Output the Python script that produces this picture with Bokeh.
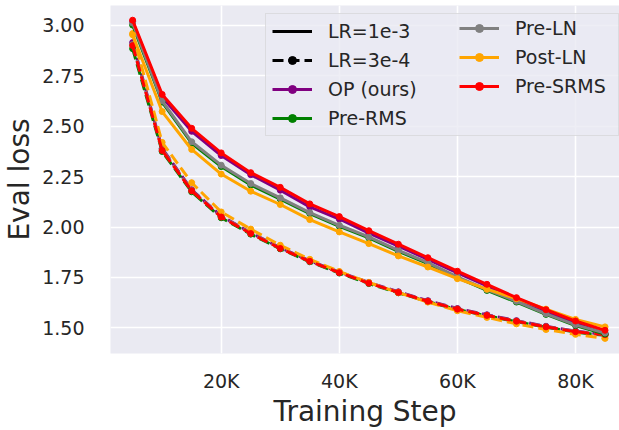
from bokeh.plotting import figure
from bokeh.models import Legend, LegendItem, FixedTicker, NumeralTickFormatter, Range1d
from bokeh.embed import file_html
from bokeh.resources import INLINE

# ---------------- data ----------------
steps = [5000, 10000, 15000, 20000, 25000, 30000, 35000, 40000, 45000,
         50000, 55000, 60000, 65000, 70000, 75000, 80000, 85000]

models = ["OP (ours)", "Pre-RMS", "Pre-LN", "Post-LN", "Pre-SRMS"]
colors = ["purple", "green", "gray", "orange", "red"]

# LR = 1e-3 (solid)
op_1e3 = [3.020, 2.645, 2.475, 2.355, 2.260, 2.183, 2.100, 2.040, 1.970, 1.905,
          1.840, 1.773, 1.708, 1.642, 1.582, 1.524, 1.472]
rms_1e3 = [3.002, 2.620, 2.416, 2.300, 2.209, 2.139, 2.067, 2.004, 1.946, 1.880,
           1.819, 1.749, 1.686, 1.628, 1.567, 1.512, 1.470]
ln_1e3 = [3.012, 2.626, 2.423, 2.307, 2.216, 2.145, 2.072, 2.009, 1.951, 1.885,
          1.824, 1.753, 1.690, 1.632, 1.570, 1.515, 1.475]
post_1e3 = [2.954, 2.573, 2.385, 2.263, 2.178, 2.112, 2.037, 1.976, 1.918, 1.857,
            1.802, 1.744, 1.692, 1.645, 1.593, 1.542, 1.505]
srms_1e3 = [3.026, 2.658, 2.490, 2.368, 2.270, 2.197, 2.115, 2.052, 1.982, 1.915,
            1.848, 1.781, 1.716, 1.650, 1.590, 1.534, 1.488]

# LR = 3e-4 (dashed)
op_3e4 = [2.915, 2.390, 2.185, 2.055, 1.972, 1.898, 1.833, 1.777, 1.725, 1.679,
          1.635, 1.596, 1.565, 1.536, 1.508, 1.484, 1.468]
rms_3e4 = [2.885, 2.375, 2.175, 2.046, 1.965, 1.892, 1.828, 1.772, 1.720, 1.674,
           1.630, 1.591, 1.560, 1.531, 1.503, 1.479, 1.463]
ln_3e4 = [2.905, 2.385, 2.182, 2.052, 1.970, 1.896, 1.831, 1.776, 1.723, 1.677,
          1.633, 1.594, 1.563, 1.534, 1.506, 1.482, 1.467]
post_3e4 = [2.960, 2.420, 2.220, 2.075, 1.990, 1.910, 1.840, 1.780, 1.725, 1.675,
            1.628, 1.585, 1.552, 1.520, 1.492, 1.468, 1.448]
srms_3e4 = [2.900, 2.380, 2.180, 2.050, 1.968, 1.894, 1.830, 1.774, 1.722, 1.676,
            1.632, 1.593, 1.562, 1.533, 1.505, 1.481, 1.466]

solid_series = [op_1e3, rms_1e3, ln_1e3, post_1e3, srms_1e3]
dashed_series = [op_3e4, rms_3e4, ln_3e4, post_3e4, srms_3e4]

x_tick_vals = [20000, 40000, 60000, 80000]
x_tick_labels = ["20K", "40K", "60K", "80K"]
y_tick_vals = [1.50, 1.75, 2.00, 2.25, 2.50, 2.75, 3.00]

# ---------------- styling ----------------
FONT = "DejaVu Sans"
TXT = "#262626"
BG = "#EAEAF2"
LW = 3
DASH = "11 5"
MS = 6

p = figure(width=619, height=430,
           x_range=Range1d(1253, 87450), y_range=Range1d(1.373, 3.099),
           output_backend="svg", toolbar_location=None,
           min_border=0, min_border_left=110, min_border_right=0,
           min_border_top=5, min_border_bottom=77)
p.background_fill_color = BG
p.border_fill_color = "white"
p.outline_line_color = None

for g in (p.xgrid, p.ygrid):
    g.grid_line_color = "white"
    g.grid_line_width = 1.6

for ax in (p.xaxis, p.yaxis):
    ax.axis_line_color = None
    ax.major_tick_line_color = None
    ax.minor_tick_line_color = None
    ax.major_label_text_font = FONT
    ax.major_label_text_font_size = "19px"
    ax.major_label_text_color = TXT
    ax.axis_label_text_font = FONT
    ax.axis_label_text_font_size = "28px"
    ax.axis_label_text_font_style = "normal"
    ax.axis_label_text_color = TXT

p.xaxis.ticker = FixedTicker(ticks=x_tick_vals)
p.xaxis.major_label_overrides = dict(zip(x_tick_vals, x_tick_labels))
p.xaxis.major_label_standoff = 10
p.xaxis.axis_label = "Training Step"
p.xaxis.axis_label_standoff = 0

p.yaxis.ticker = FixedTicker(ticks=y_tick_vals)
p.yaxis.formatter = NumeralTickFormatter(format="0.00")
p.yaxis.major_label_standoff = 20
p.yaxis.axis_label = "Eval loss"
p.yaxis.axis_label_standoff = 3

# ---------------- data lines ----------------
solid_renderers = []
for ys, c in zip(dashed_series, colors):
    p.line(steps, ys, line_color=c, line_width=LW, line_dash=DASH)
    p.scatter(steps, ys, marker="circle", size=MS, fill_color=c, line_color=c)
for ys, c in zip(solid_series, colors):
    lr = p.line(steps, ys, line_color=c, line_width=LW)
    sr = p.scatter(steps, ys, marker="circle", size=MS, fill_color=c, line_color=c)
    solid_renderers.append([lr, sr])

# ---------------- legend ----------------
nan = float("nan")
lr_solid = p.line(x=[nan], y=[nan], line_color="black", line_width=LW)
lr_dash = p.line(x=[nan], y=[nan], line_color="black", line_width=LW, line_dash=DASH)
lr_dash_m = p.scatter(x=[nan], y=[nan], marker="circle", size=MS,
                      fill_color="black", line_color="black")

items_a = [LegendItem(label="LR=1e-3", renderers=[lr_solid]),
           LegendItem(label="LR=3e-4", renderers=[lr_dash, lr_dash_m]),
           LegendItem(label=models[0], renderers=solid_renderers[0]),
           LegendItem(label=models[1], renderers=solid_renderers[1])]
items_b = [LegendItem(label=models[2], renderers=solid_renderers[2]),
           LegendItem(label=models[3], renderers=solid_renderers[3]),
           LegendItem(label=models[4], renderers=solid_renderers[4])]

common = dict(padding=6, spacing=7, margin=0,
              glyph_width=40, glyph_height=20, label_height=20,
              label_standoff=16, label_text_font=FONT,
              label_text_font_size="19px", label_text_color=TXT)

leg_a = Legend(items=items_a, location=(155, 217), label_width=284,
               border_line_color="#cccccc", border_line_width=1,
               background_fill_color=BG, background_fill_alpha=0.8, **common)
leg_b = Legend(items=items_b, location=(349, 256), border_line_color=None,
               background_fill_alpha=0.0, **common)
p.add_layout(leg_a)
p.add_layout(leg_b)

open("out.html", "w").write(file_html(p, INLINE))
